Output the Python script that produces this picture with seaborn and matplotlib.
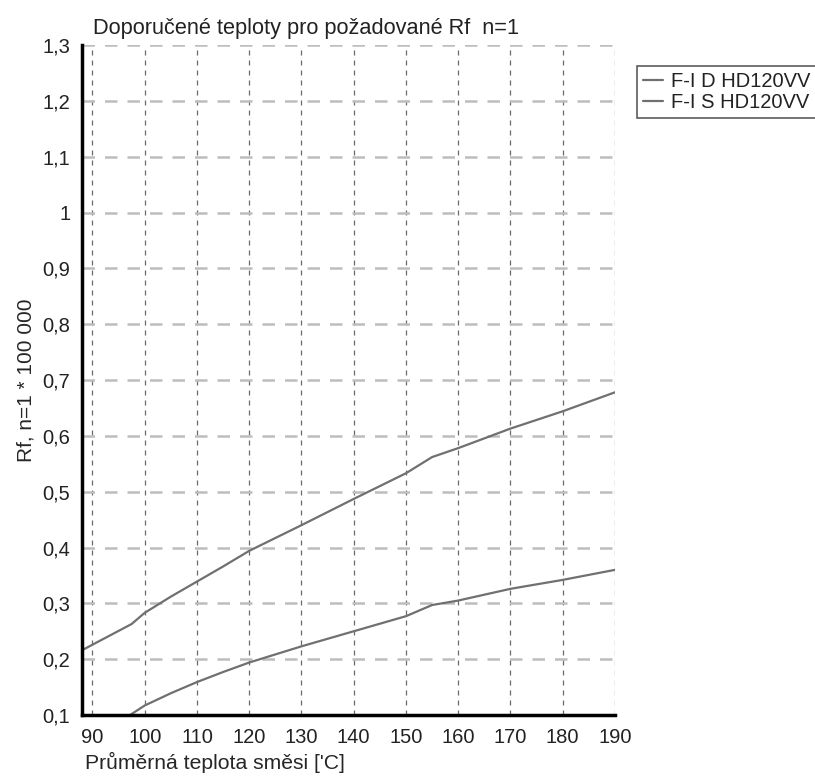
import pandas as pd
import matplotlib.pyplot as plt
import seaborn as sns
from matplotlib.ticker import MultipleLocator, FuncFormatter

# data
x_d = [88, 97.5, 100, 105, 110, 115, 120, 130, 140, 150, 155, 160, 170, 180, 190]
y_d = [0.216, 0.263, 0.283, 0.312, 0.339, 0.366, 0.394, 0.440, 0.487, 0.533, 0.562, 0.578, 0.613, 0.644, 0.678]

x_s = [97.2, 100, 105, 110, 115, 120, 130, 140, 150, 155, 160, 170, 180, 190]
y_s = [0.100, 0.117, 0.139, 0.159, 0.177, 0.194, 0.223, 0.250, 0.277, 0.297, 0.305, 0.326, 0.342, 0.360]

names = ["F-I D HD120VV", "F-I S HD120VV"]

df = pd.concat([
    pd.DataFrame({"t": x_d, "rf": y_d, "serie": names[0]}),
    pd.DataFrame({"t": x_s, "rf": y_s, "serie": names[1]}),
])

sns.set_style("white")
plt.rcParams["font.family"] = ["Liberation Sans", "DejaVu Sans"]
plt.rcParams["text.color"] = "#222222"

fig = plt.figure(figsize=(8.15, 7.84), dpi=100)
ax = fig.add_axes([0.1006, 0.088, 0.654, 0.8546])

sns.lineplot(data=df, x="t", y="rf", hue="serie", palette=["#707070", "#707070"],
             linewidth=1.6, ax=ax, sort=False)

ax.set_xlim(88, 190)
ax.set_ylim(0.1, 1.3)
ax.xaxis.set_major_locator(MultipleLocator(10))
ax.xaxis.set_minor_locator(MultipleLocator(2))
ax.yaxis.set_major_locator(MultipleLocator(0.1))
ax.yaxis.set_major_formatter(FuncFormatter(lambda v, p: ("%g" % round(v, 1)).replace(".", ",")))

# grid
ax.xaxis.grid(True, which="major", color="#6a6a6a", linestyle=(0, (4, 4)), linewidth=0.9)
ax.yaxis.grid(True, which="major", color="#bdbdbd", linestyle=(0, (5, 4)), linewidth=1.8)
ax.set_axisbelow(True)

for s in ["top", "right"]:
    ax.spines[s].set_visible(False)
ax.spines["left"].set_color("black")
ax.spines["left"].set_linewidth(2.5)
ax.spines["bottom"].set_color("black")
ax.spines["bottom"].set_linewidth(2.5)

ax.tick_params(axis="both", which="major", direction="out", length=5, width=1,
               color="#555555", labelsize=14.5, labelcolor="#222222")
ax.tick_params(axis="x", which="minor", direction="out", length=3, width=1, color="#555555")
ax.tick_params(axis="x", which="major", pad=4)

ax.set_xlabel("Průměrná teplota směsi ['C]", fontsize=15.2, loc="left", labelpad=5)
ax.xaxis.set_label_coords(0.006, -0.055)
ax.set_ylabel("Rf, n=1 * 100 000", fontsize=15, labelpad=5)
ax.set_title("Doporučené teploty pro požadované Rf  n=1", fontsize=15.7, loc="left", pad=8, x=0.02)

leg = ax.legend(loc="upper left", bbox_to_anchor=(1.041, 0.969), frameon=True, fontsize=14.5,
                handlelength=1.0, handletextpad=0.4, borderpad=0.3, labelspacing=0.1,
                fancybox=False, edgecolor="#333333", borderaxespad=0, shadow=False)
leg.get_frame().set_linewidth(1.2)

plt.savefig("out.png", dpi=100)
